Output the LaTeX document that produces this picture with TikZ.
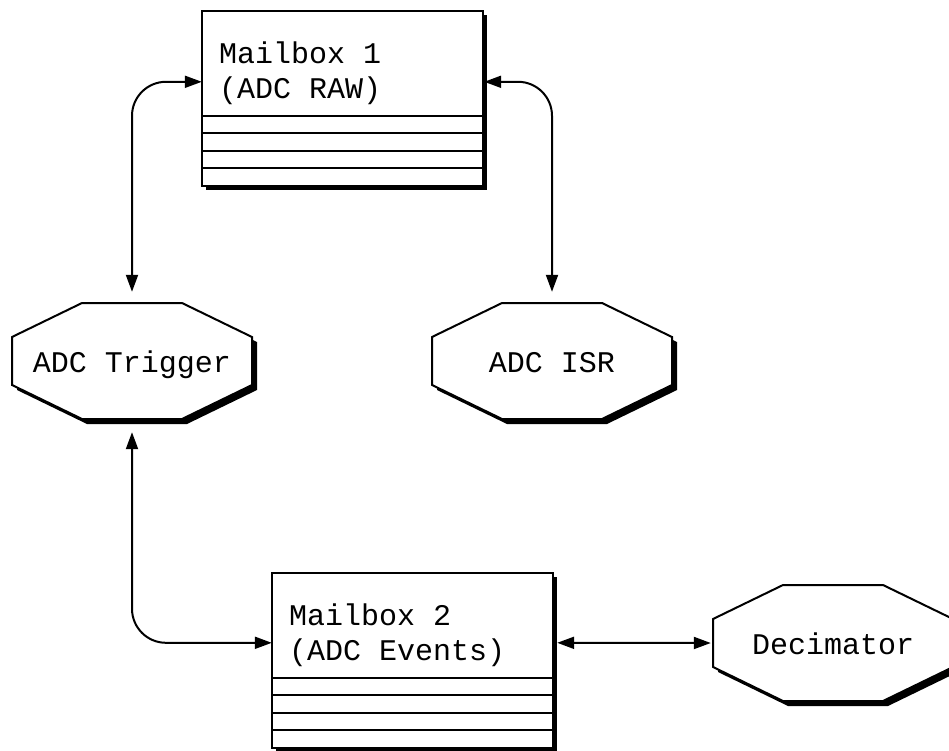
\documentclass[tikz,border=0pt]{standalone}
\usepackage{fontspec}
\setmonofont{Liberation Mono}
\usetikzlibrary{arrows.meta,calc}
\pgfdeclarelayer{background}
\pgfsetlayers{background,main}

\tikzset{
  labelfont/.style={font=\ttfamily\fontsize{30}{35}\selectfont},
  task/.style={labelfont, minimum width=240pt, minimum height=116pt,
    inner sep=0pt, text height=22pt, text depth=0pt},
  mailbox/.style={minimum width=281pt, minimum height=175pt, inner sep=0pt},
  boxtext/.style={labelfont, anchor=base west, inner sep=0pt},
  outline/.style={draw=black, line width=2pt, fill=white},
  shadowfill/.style={fill=black},
  tip/.tip={Triangle[length=17pt,width=12pt]},
  link/.style={line width=2pt, tip-tip, rounded corners=34pt},
}

% octagonal task outline with a drop shadow
\newcommand\taskshape[1]{%
  \begin{scope}[shift={(#1.center)}]
    \begin{scope}[shift={(5,5)}]
      \fill[shadowfill] (-50,-58) -- (50,-58) -- (120,-24) -- (120,24)
        -- (50,58) -- (-50,58) -- (-120,24) -- (-120,-24) -- cycle;
    \end{scope}
    \draw[outline] (-50,-58) -- (50,-58) -- (120,-24) -- (120,24)
      -- (50,58) -- (-50,58) -- (-120,24) -- (-120,-24) -- cycle;
  \end{scope}}

% mailbox: header area plus four slots, with a drop shadow
\newcommand\mailboxshape[1]{%
  \begin{scope}[shift={(#1.north west)}]
    \fill[shadowfill] (4,4.5) rectangle (285,179.5);
    \draw[outline] (0,0) rectangle (281,175);
    \foreach \y in {105,122.5,140,157.5}
      \draw[line width=2pt] (0,\y) -- (281,\y);
  \end{scope}}

\begin{document}
\begin{tikzpicture}[x=1pt,y=-1pt]
  \useasboundingbox (0,0) rectangle (949,751);

  % tasks
  \node[task] (trig) at (132,361) {ADC Trigger};
  \node[task] (isr)  at (552,361) {ADC ISR};
  \node[task] (dec)  at (833,643) {Decimator};

  % mailboxes
  \node[mailbox] (mb1) at (342.5,98.5) {};
  \node[mailbox] (mb2) at (412.5,660.5) {};
  \node[boxtext] (mb1a) at (219,64)  {Mailbox 1};
  \node[boxtext] (mb1b) at (219,99)  {(ADC RAW)};
  \node[boxtext] (mb2a) at (289,625) {Mailbox 2};
  \node[boxtext] (mb2b) at (289,660) {(ADC Events)};

  \begin{pgfonlayer}{background}
    \mailboxshape{mb1}
    \mailboxshape{mb2}
    \taskshape{trig}
    \taskshape{isr}
    \taskshape{dec}
  \end{pgfonlayer}

  % connections
  \draw[link, shorten >=11pt] ($(mb1.north west)+(0,71)$) -| (trig.north);
  \draw[link, shorten >=11pt] ($(mb1.north east)+(1,71)$) -| (isr.north);
  \draw[link, shorten <=13pt] (trig.south) |- ($(mb2.north west)+(0,70)$);
  \draw[link, shorten >=2pt] ($(mb2.north east)+(4,70)$) -- (dec.west);
\end{tikzpicture}
\end{document}
